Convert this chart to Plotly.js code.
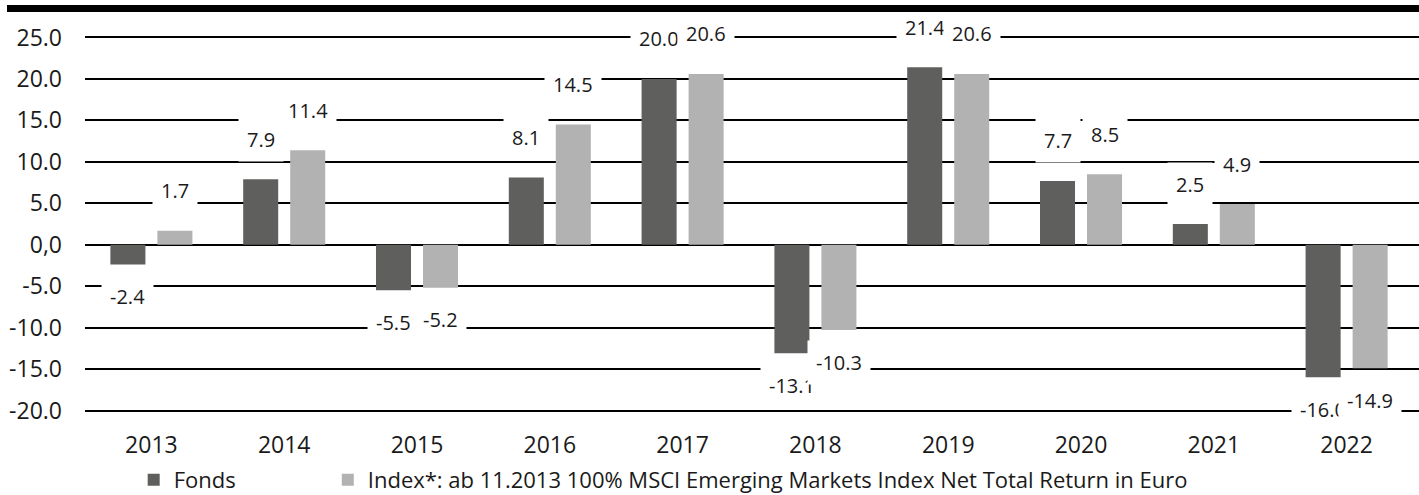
<!DOCTYPE html>
<html>
<head>
<meta charset="utf-8">
<script src="https://cdn.plot.ly/plotly-3.0.1.min.js"></script>
<style>
  html, body { margin: 0; padding: 0; background: #ffffff; }
  #chart { width: 1419px; height: 495px; }
</style>
</head>
<body>
<div id="chart"></div>
<script>
// ---- data ----
const years = ['2013', '2014', '2015', '2016', '2017', '2018', '2019', '2020', '2021', '2022'];
const fondsValues = [-2.4, 7.9, -5.5, 8.1, 20.0, -13.1, 21.4, 7.7, 2.5, -16.0];
const indexValues = [1.7, 11.4, -5.2, 14.5, 20.6, -10.3, 20.6, 8.5, 4.9, -14.9];
const seriesNames = ['Fonds', 'Index*: ab 11.2013 100% MSCI Emerging Markets Index Net Total Return in Euro'];
const yTickVals = [-20, -15, -10, -5, 0, 5, 10, 15, 20, 25];
const yTickText = ['-20.0', '-15.0', '-10.0', '-5.0', '0,0', '5.0', '10.0', '15.0', '20.0', '25.0'];

// ---- style ----
const FONT = 'Open Sans, Noto Sans, sans-serif';
const DARK = '#5f5f5e';
const LIGHT = '#b2b2b2';
const TEXT = '#1a1a1a';
const BARGAP = 0.292;
const BARGROUPGAP = 0.255;

const traces = [
  { type: 'bar', name: seriesNames[0], x: years, y: fondsValues,
    marker: { color: DARK }, legend: 'legend' },
  { type: 'bar', name: seriesNames[1], x: years, y: indexValues,
    marker: { color: LIGHT }, legend: 'legend2' }
];

// value labels: offset of each bar centre within its category (category units)
const slot = (1 - BARGAP) / 2;
const offsets = [-slot / 2, slot / 2];
const annotations = [];
[fondsValues, indexValues].forEach((vals, s) => {
  vals.forEach((v, i) => {
    annotations.push({
      x: i + offsets[s], xref: 'x',
      y: v, yref: 'y',
      text: v.toFixed(1),
      showarrow: false,
      yanchor: 'middle',
      yshift: v >= 0 ? 40 : -32,
      bgcolor: '#ffffff',
      borderpad: 8,
      font: { family: FONT, size: 20, color: TEXT }
    });
  });
});
// thick black rule along the top (drawn last so it sits above the label boxes)
annotations.push({
  xref: 'paper', yref: 'paper',
  x: -0.0585, xanchor: 'left',
  y: 1.0794, yanchor: 'top',
  text: ' ', width: 1412, height: 7,
  showarrow: false, bgcolor: '#000000',
  borderpad: 0, borderwidth: 0,
  font: { size: 1, color: '#000000' }
});

const legendBase = {
  orientation: 'h',
  xanchor: 'left',
  y: -0.1773, yanchor: 'middle',
  font: { family: FONT, size: 22, color: TEXT },
  bgcolor: 'rgba(0,0,0,0)'
};

const layout = {
  width: 1419, height: 495,
  margin: { l: 85, r: 0, t: 35, b: 82, autoexpand: false },
  paper_bgcolor: '#ffffff', plot_bgcolor: '#ffffff',
  barmode: 'group', bargap: BARGAP, bargroupgap: BARGROUPGAP,
  font: { family: FONT, size: 22, color: TEXT },
  xaxis: {
    type: 'category',
    range: [-0.5, 9.545],
    showgrid: false, zeroline: false, showline: false,
    ticks: '', ticklabelstandoff: 16,
    tickfont: { family: FONT, size: 23, color: TEXT }
  },
  yaxis: {
    range: [-20.3, 25.3],
    tickvals: yTickVals, ticktext: yTickText,
    showgrid: true, gridcolor: '#000000', gridwidth: 2,
    zeroline: false, showline: false, ticks: '',
    ticklabelstandoff: 22,
    tickfont: { family: FONT, size: 23, color: TEXT }
  },
  showlegend: true,
  legend: Object.assign({}, legendBase, { x: 0.0365 }),
  legend2: Object.assign({}, legendBase, { x: 0.182 }),
  annotations: annotations
};

Plotly.newPlot('chart', traces, layout, { displayModeBar: false, staticPlot: true });
</script>
</body>
</html>
